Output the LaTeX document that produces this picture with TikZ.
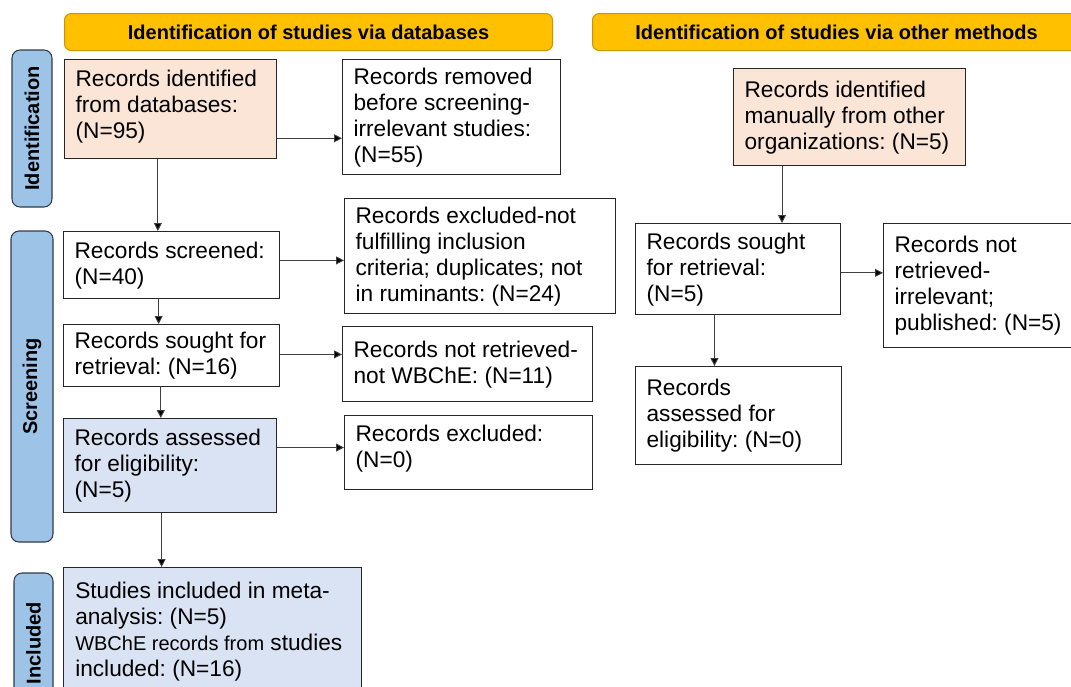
\documentclass[tikz,border=0pt]{standalone}
\usepackage{fontspec}
\setmainfont{Liberation Sans}
\frenchspacing
\usetikzlibrary{calc,arrows.meta}
\definecolor{hdr}{HTML}{FFC000}
\definecolor{hdrline}{HTML}{C99700}
\definecolor{side}{HTML}{9DC3E6}
\definecolor{sideline}{HTML}{2F3B4A}
\definecolor{peach}{HTML}{FBE5D6}
\definecolor{lblue}{HTML}{DAE3F3}
\definecolor{boxline}{HTML}{262626}
\begin{document}
\begin{tikzpicture}[x=0.75pt,y=-0.75pt,
  header/.style={draw=hdrline, fill=hdr, line width=0.8pt, rounded corners=5pt, anchor=north west,
    font=\bfseries\fontsize{15}{18}\selectfont, inner sep=0pt},
  sidelab/.style={draw=sideline, fill=side, line width=0.8pt, rounded corners=6pt, rotate=90,
    font=\bfseries\fontsize{15}{18}\selectfont, inner sep=0pt},
  box/.style={draw=boxline, line width=1pt, fill=white, anchor=north west, inner sep=0pt},
  txt/.style={anchor=west, align=left, inner sep=0pt, xshift=8.5pt,
    font=\fontsize{17}{19.5}\selectfont\frenchspacing},
  txtnw/.style={anchor=north west, align=left, inner sep=0pt, xshift=9pt, yshift=-11pt,
    font=\fontsize{17}{19.5}\selectfont\frenchspacing},
  arr/.style={draw=black!75, line width=0.7pt, -{Triangle[width=6pt,length=6pt,fill=black]}}
]
\clip (0,0) rectangle (1071,686);
\fill[white] (0,0) rectangle (1071,686);

% headers
\node[header, minimum width=488*0.75pt, minimum height=37*0.75pt] (h1) at (64,13) {Identification of studies via databases};
\node[header, minimum width=488*0.75pt, minimum height=37*0.75pt] (h2) at (592,13) {Identification of studies via other methods};

% side labels
\node[sidelab, minimum width=157*0.75pt, minimum height=40*0.75pt] (s1) at (32,128.5) {Identification};
\node[sidelab, minimum width=311*0.75pt, minimum height=42*0.75pt] (s2) at (32,386.5) {Screening};
\node[sidelab, minimum width=140*0.75pt, minimum height=39*0.75pt] (s3) at (33.5,643) {Included};

% left column
\node[box, fill=peach, minimum width=212*0.75pt, minimum height=99*0.75pt,
  label={[txt, yshift=2pt]west:Records identified\\from databases:\\(N=95)}] (A) at (64,59) {};
\node[box, minimum width=218*0.75pt, minimum height=115*0.75pt,
  label={[txt]west:Records removed\\before screening-\\irrelevant studies:\\(N=55)}] (B) at (342,59) {};
\node[box, minimum width=216*0.75pt, minimum height=67*0.75pt,
  label={[txt]west:Records screened:\\(N=40)}] (C) at (63,231) {};
\node[box, minimum width=271*0.75pt, minimum height=115*0.75pt,
  label={[txt]west:Records excluded-not\\fulfilling inclusion\\criteria; duplicates; not\\in ruminants: (N=24)}] (D) at (344,198) {};
\node[box, minimum width=216*0.75pt, minimum height=62*0.75pt,
  label={[txt]west:Records sought for\\retrieval: (N=16)}] (E) at (63,324) {};
\node[box, minimum width=250*0.75pt, minimum height=75*0.75pt,
  label={[txt]west:Records not retrieved-\\not WBChE: (N=11)}] (F) at (342,326) {};
\node[box, fill=lblue, minimum width=213*0.75pt, minimum height=94*0.75pt,
  label={[txt]west:Records assessed\\for eligibility:\\(N=5)}] (G) at (63,418) {};
\node[box, minimum width=248*0.75pt, minimum height=74*0.75pt,
  label={[txt, yshift=3pt]west:Records excluded:\\(N=0)}] (H) at (344,415) {};
\node[box, fill=lblue, minimum width=298*0.75pt, minimum height=140*0.75pt,
  label={[txtnw]north west:Studies included in meta-\\analysis: (N=5)\\{\fontsize{15}{19}\selectfont WBChE records from} studies\\included: (N=16)}] (I) at (63,567) {};

% right column
\node[box, fill=peach, minimum width=232*0.75pt, minimum height=97*0.75pt,
  label={[txt]west:Records identified\\manually from other\\organizations: (N=5)}] (J) at (733,68) {};
\node[box, minimum width=205*0.75pt, minimum height=91*0.75pt,
  label={[txt]west:Records sought\\for retrieval:\\(N=5)}] (K) at (635,223) {};
\node[box, minimum width=220*0.75pt, minimum height=124*0.75pt,
  label={[txt]west:Records not\\retrieved-\\irrelevant;\\published: (N=5)}] (L) at (883,223) {};
\node[box, minimum width=206*0.75pt, minimum height=98*0.75pt,
  label={[txt]west:Records\\assessed for\\eligibility: (N=0)}] (M) at (635,366) {};

% connectors
\coordinate (pAB) at ($(A.north east)!0.79!(A.south east)$);
\draw[arr] (pAB) -- (pAB -| B.west);
\coordinate (pAC) at ($(A.south west)!0.44!(A.south east)$);
\draw[arr] (pAC) -- (pAC |- C.north);
\coordinate (pCD) at ($(C.north east)!0.43!(C.south east)$);
\draw[arr] (pCD) -- (pCD -| D.west);
\coordinate (pCE) at ($(C.south west)!0.44!(C.south east)$);
\draw[arr] (pCE) -- (pCE |- E.north);
\coordinate (pEF) at ($(E.north east)!0.48!(E.south east)$);
\draw[arr] (pEF) -- (pEF -| F.west);
\coordinate (pEG) at ($(E.south west)!0.45!(E.south east)$);
\draw[arr] (pEG) -- (pEG |- G.north);
\coordinate (pGH) at ($(G.north east)!0.31!(G.south east)$);
\draw[arr] (pGH) -- (pGH -| H.west);
\coordinate (pGI) at ($(G.south west)!0.46!(G.south east)$);
\draw[arr] (pGI) -- (pGI |- I.north);
\coordinate (pJK) at ($(J.south west)!0.21!(J.south east)$);
\draw[arr] (pJK) -- (pJK |- K.north);
\coordinate (pKL) at ($(K.north east)!0.54!(K.south east)$);
\draw[arr] (pKL) -- (pKL -| L.west);
\coordinate (pKM) at ($(K.south west)!0.385!(K.south east)$);
\draw[arr] (pKM) -- (pKM |- M.north);
\end{tikzpicture}
\end{document}
